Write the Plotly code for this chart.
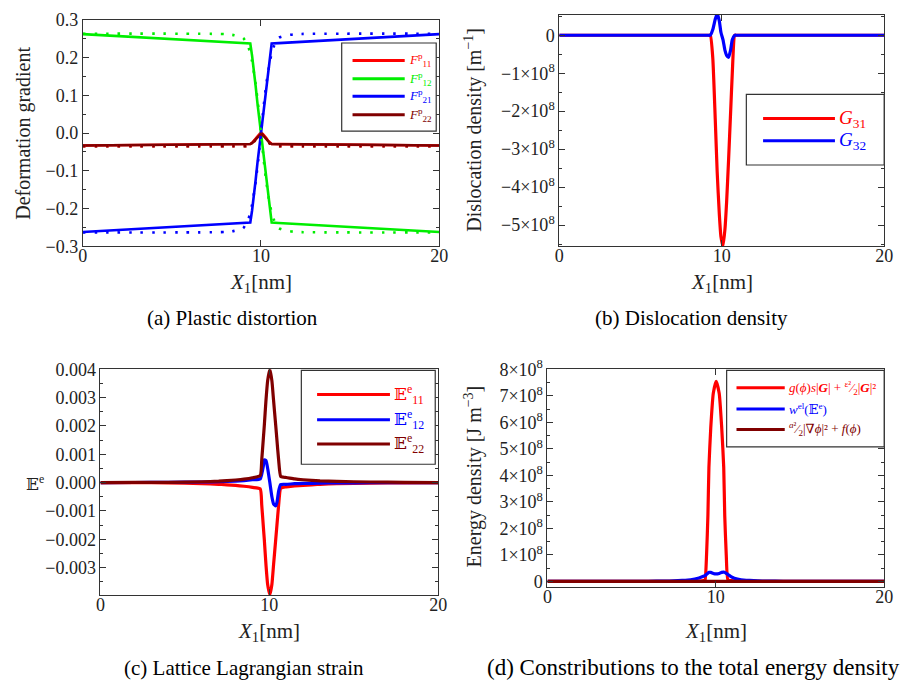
import plotly.graph_objects as go

W, H = 904, 696
SERIF = '"Liberation Serif", "DejaVu Serif", serif'
RED, GREEN, BLUE, DRED = "#ff0000", "#00ee00", "#0000ff", "#800000"

# ---------------- (a) Plastic distortion ----------------
A_X = [0, 2, 4, 6, 8, 9.0, 9.4, 9.5, 9.6, 9.7, 9.8, 9.9, 10.0, 10.1, 10.2, 10.3,
       10.4, 10.5, 10.6, 11, 12, 14, 16, 18, 20]
F12 = [0.262, 0.2567, 0.2514, 0.246, 0.2407, 0.238, 0.237, 0.205, 0.17, 0.125, 0.08,
       0.04, 0.0, -0.04, -0.08, -0.125, -0.17, -0.205, -0.237, -0.238, -0.241,
       -0.246, -0.2514, -0.2567, -0.262]
F21 = [-0.262, -0.2567, -0.2514, -0.246, -0.2407, -0.238, -0.237, -0.205, -0.17,
       -0.125, -0.08, -0.04, 0.0, 0.04, 0.08, 0.125, 0.17, 0.205, 0.237, 0.238,
       0.241, 0.246, 0.2514, 0.2567, 0.262]
F11 = [-0.033, -0.032, -0.031, -0.0305, -0.0298, -0.0293, -0.029, -0.026, -0.02,
       -0.013, -0.007, -0.002, 0.002, -0.002, -0.007, -0.013, -0.02, -0.026, -0.029,
       -0.0293, -0.0298, -0.0305, -0.031, -0.032, -0.033]
F22 = [-0.033, -0.032, -0.031, -0.0305, -0.0298, -0.0293, -0.029, -0.027, -0.022,
       -0.016, -0.01, -0.005, -0.002, -0.005, -0.01, -0.016, -0.022, -0.027, -0.029,
       -0.0293, -0.0298, -0.0305, -0.031, -0.032, -0.033]
# dotted reference curves
AD_X = [0, 8, 8.5, 9.0, 9.3, 9.5, 9.7, 9.85, 10.0, 10.15, 10.3, 10.5, 10.7, 11, 11.5, 12, 20]
F12_REF = [0.263, 0.262, 0.259, 0.252, 0.227, 0.19, 0.13, 0.07, 0.0, -0.07, -0.13,
           -0.19, -0.227, -0.252, -0.259, -0.262, -0.263]
F21_REF = [-0.263, -0.262, -0.259, -0.252, -0.227, -0.19, -0.13, -0.07, 0.0, 0.07, 0.13,
           0.19, 0.227, 0.252, 0.259, 0.262, 0.263]
F22_REF = [-0.035, -0.035, -0.035, -0.035, -0.034, -0.028, -0.018, -0.008, -0.001,
           -0.008, -0.018, -0.028, -0.034, -0.035, -0.035, -0.035, -0.035]

# ---------------- (b) Dislocation density ----------------
B_X = [0, 4, 8, 9.0, 9.2, 9.3, 9.45, 9.6, 9.72, 9.85, 9.95, 10.08, 10.2, 10.3, 10.42,
       10.55, 10.65, 10.8, 10.9, 11.1, 12, 16, 20]
G31 = [0, 0, 0, 0, 0, 0, -0.6e8, -2.2e8, -3.6e8, -4.7e8, -5.3e8, -5.55e8, -5.1e8, -4.4e8,
       -3.3e8, -2.0e8, -1.0e8, 0, 0, 0, 0, 0, 0]
G32 = [0, 0, 0, 0, 0, 0, 0.15e8, 0.42e8, 0.57e8, 0.38e8, 0.08e8, -0.12e8, -0.4e8, -0.53e8,
       -0.58e8, -0.38e8, -0.12e8, 0, 0, 0, 0, 0, 0]

# ---------------- (c) Lattice Lagrangian strain ----------------
C_X = [0, 2, 4, 6, 7, 8, 8.5, 9.0, 9.46, 9.55, 9.65, 9.7, 9.8, 9.9, 10.03, 10.15, 10.25,
       10.38, 10.45, 10.55, 10.67, 10.85, 11, 11.5, 12, 13, 14, 16, 18, 20]
E11 = [0, -0.000005, -0.00001, -0.00004, -0.00006, -0.0001, -0.00013, -0.00017, -0.00022,
       -0.0008, -0.0016, -0.002, -0.0029, -0.0036, -0.00396, -0.0036, -0.0029, -0.002,
       -0.0015, -0.0008, -0.0002, -0.00016, -0.00015, -0.00012, -0.0001, -0.00006,
       -0.00004, -0.00002, -0.00001, 0]
E12 = [0, 0.000003, 0.000008, 0.00002, 0.00003, 0.00005, 0.00007, 0.0001, 0.00013, 0.0003,
       0.0006, 0.0008, 0.00078, 0.0005, 0.0, -0.0005, -0.00075, -0.00082, -0.0007, -0.0003,
       -0.00007, -0.00006, -0.00006, -0.00004, -0.00003, -0.00002, -0.00001, -0.000005,
       -0.000002, 0]
E22 = [0, 0.000005, 0.00001, 0.00003, 0.00005, 0.00009, 0.00012, 0.00017, 0.00025, 0.0008,
       0.0016, 0.002, 0.0029, 0.0036, 0.004, 0.0036, 0.0029, 0.002, 0.0015, 0.0008, 0.00022,
       0.00019, 0.00018, 0.00013, 0.0001, 0.00006, 0.00004, 0.00002, 0.00001, 0]

# ---------------- (d) Energy density contributions ----------------
D_X = [0, 4, 6, 7, 7.5, 8, 8.5, 9.0, 9.3, 9.36, 9.45, 9.53, 9.59, 9.7, 9.85, 10.02, 10.2,
       10.35, 10.47, 10.53, 10.62, 10.72, 10.9, 11.1, 11.5, 12, 12.5, 13, 14, 16, 20]
W_DISL = [0, 0, 0, 0, 0, 0, 0, 0.01e8, 0.03e8, 0.05e8, 1.0e8, 2.48e8, 4.3e8, 5.8e8, 7.1e8,
          7.55e8, 7.1e8, 5.8e8, 4.3e8, 2.48e8, 1.0e8, 0.05e8, 0.03e8, 0.01e8, 0, 0, 0, 0,
          0, 0, 0]
W_EL = [0, 0.001e8, 0.005e8, 0.012e8, 0.02e8, 0.035e8, 0.06e8, 0.13e8, 0.2e8, 0.22e8,
        0.27e8, 0.31e8, 0.34e8, 0.34e8, 0.3e8, 0.28e8, 0.3e8, 0.34e8, 0.35e8, 0.34e8,
        0.3e8, 0.26e8, 0.18e8, 0.12e8, 0.06e8, 0.035e8, 0.02e8, 0.012e8, 0.005e8,
        0.001e8, 0]
W_PHASE = [0.0] * len(D_X)

X_TICKS = [0, 10, 20]
A_YTICKS = [-0.3, -0.2, -0.1, 0.0, 0.1, 0.2, 0.3]
A_YTEXT = ["\u22120.3", "\u22120.2", "\u22120.1", "0.0", "0.1", "0.2", "0.3"]
B_YTICKS = [0, -1e8, -2e8, -3e8, -4e8, -5e8]
B_YTEXT = ["0"] + ["\u2212%d\u00d710<sup>8</sup>" % k for k in range(1, 6)]
C_YTICKS = [0.004, 0.003, 0.002, 0.001, 0.0, -0.001, -0.002, -0.003]
C_YTEXT = ["0.004", "0.003", "0.002", "0.001", "0.000", "\u22120.001", "\u22120.002", "\u22120.003"]
D_YTICKS = [k * 1e8 for k in range(0, 9)]
D_YTEXT = ["0"] + ["%d\u00d710<sup>8</sup>" % k for k in range(1, 9)]

fig = go.Figure()

def line(x, y, color, xa, ya, width=3, dash=None, shape="linear"):
    fig.add_trace(go.Scatter(x=x, y=y, mode="lines", xaxis=xa, yaxis=ya, showlegend=False,
                             line=dict(color=color, width=width, dash=dash, shape=shape,
                                       smoothing=0.5 if shape == "spline" else None)))

DOT = "2.5px,9px"
line(A_X, F11, RED, "x", "y", 2.6)
line(A_X, F12, GREEN, "x", "y", 2.6)
line(A_X, F21, BLUE, "x", "y", 2.6)
line(A_X, F22, DRED, "x", "y", 2.6)
line(AD_X, F22_REF, RED, "x", "y", 2.6, DOT, "spline")
line(AD_X, F12_REF, GREEN, "x", "y", 2.6, DOT, "spline")
line(AD_X, F21_REF, BLUE, "x", "y", 2.6, DOT, "spline")
line(AD_X, F22_REF, DRED, "x", "y", 2.6, DOT, "spline")

line(B_X, G31, RED, "x2", "y2", 3.2, None, "spline")
line(B_X, G32, BLUE, "x2", "y2", 3.2, None, "spline")

line(C_X, E11, RED, "x3", "y3", 3.2, None, "spline")
line(C_X, E12, BLUE, "x3", "y3", 3.2, None, "spline")
line(C_X, E22, DRED, "x3", "y3", 3.2, None, "spline")

line(D_X, W_DISL, RED, "x4", "y4", 3.2, None, "spline")
line(D_X, W_EL, BLUE, "x4", "y4", 3.2, None, "spline")
line(D_X, W_PHASE, DRED, "x4", "y4", 3.2, None, "spline")

def px(x):
    return x / W

def py(y):
    return 1 - y / H

AXC = "#333333"
TICKFONT = dict(family=SERIF, size=18, color="#222222")

def xaxis(x0, x1, y_anchor):
    return dict(domain=[px(x0), px(x1)], range=[0, 20], anchor=y_anchor, showline=True,
                mirror="allticks", linecolor=AXC, linewidth=1, ticks="inside", ticklen=6,
                tickcolor=AXC, tickvals=X_TICKS, ticktext=[str(v) for v in X_TICKS],
                showgrid=False, zeroline=False, tickfont=TICKFONT, ticklabelstandoff=-7)

def yaxis(y0, y1, rng, x_anchor, tv, tt, minor_dtick):
    return dict(domain=[py(y1), py(y0)], range=rng, anchor=x_anchor, showline=True,
                mirror="allticks", linecolor=AXC, linewidth=1, ticks="inside", ticklen=6,
                tickcolor=AXC, tickvals=tv, ticktext=tt, showgrid=False, zeroline=False,
                tickfont=TICKFONT,
                minor=dict(ticks="inside", ticklen=3, tickcolor=AXC, dtick=minor_dtick,
                           tick0=0, showgrid=False))

fig.update_layout(
    width=W, height=H, margin=dict(l=0, r=0, t=0, b=0),
    paper_bgcolor="white", plot_bgcolor="white", showlegend=False,
    xaxis=xaxis(79, 441, "y"),
    yaxis=yaxis(8, 242, [-0.3, 0.3], "x", A_YTICKS, A_YTEXT, 0.05),
    xaxis2=xaxis(563, 893, "y2"),
    yaxis2=yaxis(3, 242, [-5.56e8, 0.536e8], "x2", B_YTICKS, B_YTEXT, 0.5e8),
    xaxis3=xaxis(97, 440, "y3"),
    yaxis3=yaxis(369, 602, [-0.00397, 0.004], "x3", C_YTICKS, C_YTEXT, 0.0005),
    xaxis4=xaxis(551, 893, "y4"),
    yaxis4=yaxis(369, 594, [-0.22e8, 8e8], "x4", D_YTICKS, D_YTEXT, 0.5e8),
)

shapes = []
annots = []

def text(x, y, s, size, color="#222222", angle=0, xanchor="center", family=SERIF):
    annots.append(dict(x=px(x), y=py(y), xref="paper", yref="paper", text=s, showarrow=False,
                       textangle=angle, xanchor=xanchor, yanchor="middle",
                       font=dict(family=family, size=size, color=color)))

def legend(box, x0, x1, ys, labels, colors, size, tx):
    shapes.append(dict(type="rect", xref="paper", yref="paper", x0=px(box[0]), x1=px(box[2]),
                       y0=py(box[3]), y1=py(box[1]), line=dict(color="#333333", width=1.2),
                       fillcolor="white", layer="above"))
    for yy, lab, col in zip(ys, labels, colors):
        shapes.append(dict(type="line", xref="paper", yref="paper", x0=px(x0), x1=px(x1),
                           y0=py(yy), y1=py(yy), line=dict(color=col, width=3), layer="above"))
        text(tx, yy, lab, size, col, xanchor="left")

legend((342, 32, 438, 123), 353, 406, [50, 69, 87, 106],
       ["<i>F</i><sup>p</sup><sub>11</sub>", "<i>F</i><sup>p</sup><sub>12</sub>",
        "<i>F</i><sup>p</sup><sub>21</sub>", "<i>F</i><sup>p</sup><sub>22</sub>"],
       [RED, GREEN, BLUE, DRED], 13, 408)
legend((753, 85, 893, 158), 770, 843, [110, 133],
       ["<i>G</i><sub>31</sub>", "<i>G</i><sub>32</sub>"], [RED, BLUE], 19, 845)
legend((301, 370, 437, 467), 317, 391, [395, 421, 446],
       ["\U0001D53C<sup>e</sup><sub>11</sub>", "\U0001D53C<sup>e</sup><sub>12</sub>",
        "\U0001D53C<sup>e</sup><sub>22</sub>"], [RED, BLUE, DRED], 17, 393)
legend((733, 370, 893, 449), 743, 792, [388, 410, 431],
       ["<i>g</i>(<i>\u03d5</i>)<i>s</i>|<b><i>G</i></b>| + <sup>\u03b5\u00b2</sup>\u2044<sub>2</sub>|<b><i>G</i></b>|\u00b2",
        "<i>w</i><sup>el</sup>(\U0001D53C<sup>e</sup>)",
        "<sup><i>a</i>\u00b2</sup>\u2044<sub>2</sub>|\u2207<i>\u03d5</i>|\u00b2 + <i>f</i>(<i>\u03d5</i>)"],
       [RED, BLUE, DRED], 13, 794)

# axis titles
text(18, 125, "Deformation gradient", 20, angle=-90)
text(475, 122, "Dislocation density [m<sup>\u22121</sup>]", 20, angle=-90)
text(30, 486, "\U0001D53C<sup>e</sup>", 17)
text(476, 480, "Energy density [J m<sup>\u22123</sup>]", 20, angle=-90)
XT = "<i>X</i><sub>1</sub>[nm]"
text(260, 280, XT, 21)
text(728, 280, XT, 21)
text(268, 640, XT, 21)
text(722, 640, XT, 21)

# captions
text(231, 316, "(a) Plastic distortion", 21, "#000000")
text(697, 316, "(b) Dislocation density", 21, "#000000")
text(243, 677, "(c) Lattice Lagrangian strain", 21, "#000000")
text(699, 677, "(d) Constributions to the total energy density", 23, "#000000")

fig.update_layout(shapes=shapes, annotations=annots)
fig.write_html("out.html", config={"displayModeBar": False},
               post_script="document.body.style.margin='0';document.body.style.overflow='hidden';")
